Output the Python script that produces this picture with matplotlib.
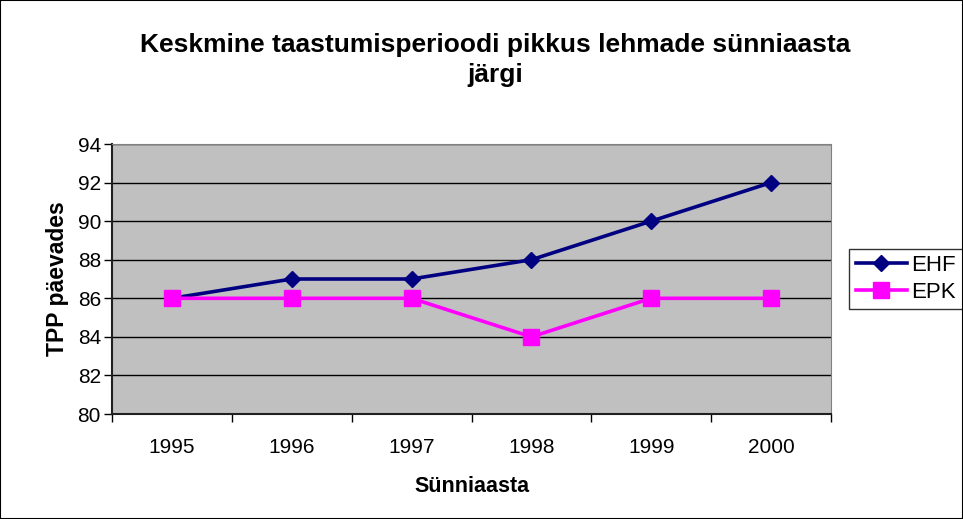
import matplotlib.pyplot as plt
import matplotlib.patches as mpatches

plt.rcParams['font.family'] = ['Liberation Sans', 'DejaVu Sans']

# Data
years = ['1995', '1996', '1997', '1998', '1999', '2000']
ehf = [86, 87, 87, 88, 90, 92]
epk = [86, 86, 86, 84, 86, 86]

fig = plt.figure(figsize=(9.63, 5.19), dpi=100)
ax = fig.add_axes([112 / 963, 1 - 414 / 519, (831 - 112) / 963, (414 - 144) / 519])
ax.set_facecolor('#C0C0C0')

x = list(range(len(years)))
ax.plot(x, ehf, color='#000080', lw=2.6, marker='D', ms=8, label='EHF', zorder=3)
ax.plot(x, epk, color='#FF00FF', lw=2.6, marker='s', ms=11, label='EPK', zorder=4)

ax.set_xlim(-0.5, len(years) - 0.5)
ax.set_ylim(80, 94)
ax.set_yticks(range(80, 95, 2))
ax.set_xticks(x)
ax.set_xticklabels(years)
ax.set_xticks([i - 0.5 for i in range(len(years) + 1)], minor=True)
ax.tick_params(axis='x', which='major', length=0, pad=17, labelsize=15)
ax.tick_params(axis='x', which='minor', length=6, width=1, direction='out')
ax.tick_params(axis='y', length=6, width=1, direction='out', labelsize=15, pad=2)
ax.grid(axis='y', color='black', lw=1)
ax.set_axisbelow(True)

for s in ['top', 'right']:
    ax.spines[s].set_color('#808080')
for s in ['left', 'bottom']:
    ax.spines[s].set_color('#202020')
    ax.spines[s].set_linewidth(1.5)

ax.set_xlabel('Sünniaasta', fontsize=15.5, fontweight='bold', labelpad=14)
ax.set_ylabel('TPP päevades', fontsize=16.5, fontweight='bold', labelpad=6)

fig.text(495 / 963, 1 - 60 / 519, 'Keskmine taastumisperioodi pikkus lehmade sünniaasta\njärgi',
         ha='center', va='center', fontsize=19, fontweight='bold', linespacing=1.35)

leg = ax.legend(loc='center left', bbox_to_anchor=(849 / 963, 1 - 279 / 519),
                bbox_transform=fig.transFigure, fontsize=16, frameon=True, fancybox=False,
                edgecolor='black', borderpad=0.3, handlelength=2.3, handletextpad=0.2,
                labelspacing=0.25, borderaxespad=0)
leg.get_frame().set_linewidth(1)

fig.patches.append(mpatches.Rectangle((0, 0), 1, 1, transform=fig.transFigure,
                                      fill=False, edgecolor='black', lw=1.5))

fig.savefig('out.png', dpi=100)
